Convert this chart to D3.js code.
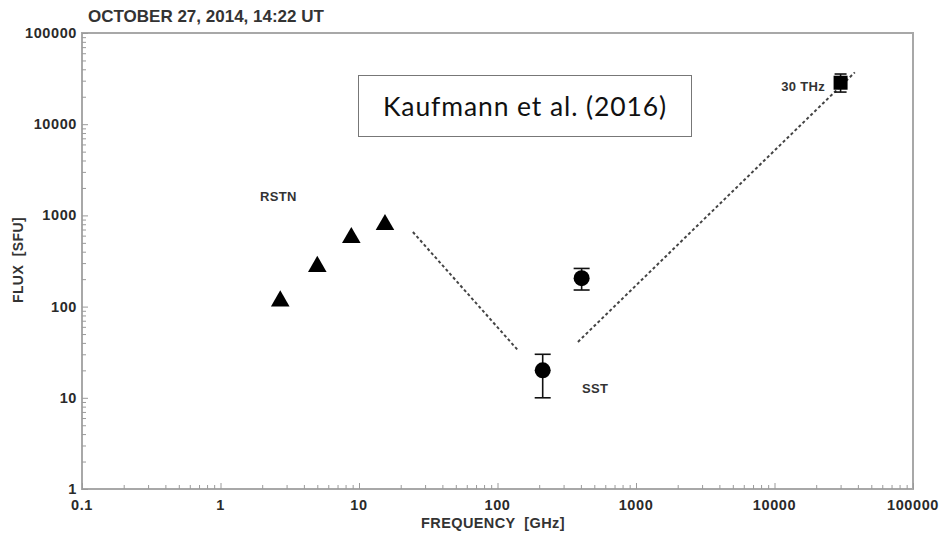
<!DOCTYPE html>
<html>
<head>
<meta charset="utf-8">
<script src="https://cdn.jsdelivr.net/npm/d3@7"></script>
<style>
  body { margin: 0; background: #fff; }
  svg { display: block; font-family: "Liberation Sans", Arial, sans-serif; }
  text { white-space: pre; }
</style>
</head>
<body>
<div class="chart"></div>
<script>
const WIDTH = 946;
const HEIGHT = 538;
const M = { left: 82, right: 33, top: 33, bottom: 49 };

// RSTN fixed frequencies (triangles)
var rstnFreq = [2.7, 5.0, 8.8, 15.4];
var rstnFlux = [115, 275, 570, 790];

// SST sub-THz points (circles, with error bars)
var sstFreq = [212, 405];
var sstFlux = [20, 205];
var sstLow = [10, 152];
var sstHigh = [30, 262];

// 30 THz point (square)
var thzFreq = [30000];
var thzFlux = [28500];
var thzLow = [22500];
var thzHigh = [35500];

// dashed spectral trends
var fitLowFreq = [24.5, 141];
var fitLowFlux = [657, 33];
var fitHighFreq = [381, 38000];
var fitHighFlux = [41, 37000];

var xTicks = [0.1, 1, 10, 100, 1000, 10000, 100000];
var xTickLabels = ['0.1', '1', '10', '100', '1000', '10000', '100000'];
var yTicks = [1, 10, 100, 1000, 10000, 100000];
var yTickLabels = ['1', '10', '100', '1000', '10000', '100000'];

var translate = function (x, y) {
  return 'translate(' + x + ',' + y + ')';
};

var innerW = WIDTH - M.left - M.right;
var innerH = HEIGHT - M.top - M.bottom;

var x = d3.scaleLog().domain([0.1, 100000]).range([0, innerW]);
var y = d3.scaleLog().domain([1, 100000]).range([innerH, 0]);

var minorOf = function (majors) {
  var out = [];
  for (var i = 0; i < majors.length - 1; i++)
    for (var k = 2; k < 10; k++) out.push(majors[i] * k);
  return out;
};

var svg = d3.select('.chart').append('svg')
  .attr('width', WIDTH)
  .attr('height', HEIGHT);

svg.append('text')
  .attr('x', 88).attr('y', 22)
  .attr('font-size', 17).attr('font-weight', 'bold').attr('fill', '#333')
  .text('OCTOBER 27, 2014, 14:22 UT');

var g = svg.append('g').attr('transform', translate(M.left, M.top));

// frame
g.append('rect')
  .attr('width', innerW).attr('height', innerH)
  .attr('fill', 'none').attr('stroke', '#a8a8a8').attr('stroke-width', 2);

// x ticks (inward)
var xAxis = d3.axisTop(x).tickValues(xTicks).tickSize(6).tickFormat('');
var xMinor = d3.axisTop(x).tickValues(minorOf(xTicks)).tickSize(4).tickFormat('');
[xAxis, xMinor].forEach(function (ax) {
  g.append('g').attr('transform', translate(0, innerH)).call(ax)
    .call(function (s) { s.select('.domain').remove(); })
    .selectAll('line').attr('stroke', '#9a9a9a');
});

var yAxis = d3.axisRight(y).tickValues(yTicks).tickSize(6).tickFormat('');
var yMinor = d3.axisRight(y).tickValues(minorOf(yTicks)).tickSize(4).tickFormat('');
[yAxis, yMinor].forEach(function (ax) {
  g.append('g').call(ax)
    .call(function (s) { s.select('.domain').remove(); })
    .selectAll('line').attr('stroke', '#9a9a9a');
});

// tick labels
g.selectAll('.xlab').data(xTicks).enter().append('text')
  .attr('x', function (d) { return x(d); })
  .attr('y', innerH + 21)
  .attr('text-anchor', 'middle')
  .attr('font-size', 14.5).attr('letter-spacing', 0.6)
  .attr('font-weight', 'bold').attr('fill', '#2a2a2a')
  .text(function (d, i) { return xTickLabels[i]; });

g.selectAll('.ylab').data(yTicks).enter().append('text')
  .attr('x', -5)
  .attr('y', function (d) { return y(d) + 5; })
  .attr('text-anchor', 'end')
  .attr('font-size', 14.5).attr('letter-spacing', 0.6)
  .attr('font-weight', 'bold').attr('fill', '#2a2a2a')
  .text(function (d, i) { return yTickLabels[i]; });

// axis titles
svg.append('text')
  .attr('x', 493).attr('y', 528)
  .attr('text-anchor', 'middle')
  .attr('font-size', 14.5).attr('letter-spacing', 0.4)
  .attr('font-weight', 'bold').attr('fill', '#333')
  .text('FREQUENCY  [GHz]');

svg.append('text')
  .attr('transform', translate(23, 260) + ' rotate(-90)')
  .attr('text-anchor', 'middle')
  .attr('font-size', 14).attr('letter-spacing', 0.4)
  .attr('font-weight', 'bold').attr('fill', '#333')
  .text('FLUX  [SFU]');

// dashed trends
var line = d3.line()
  .x(function (d) { return x(d[0]); })
  .y(function (d) { return y(d[1]); });

[[fitLowFreq, fitLowFlux], [fitHighFreq, fitHighFlux]].forEach(function (f) {
  g.append('path')
    .attr('d', line(d3.zip(f[0], f[1])))
    .attr('stroke', '#444').attr('stroke-width', 2)
    .attr('stroke-dasharray', '3,2.5').attr('fill', 'none');
});

// RSTN triangles
g.selectAll('.tri').data(d3.zip(rstnFreq, rstnFlux)).enter().append('path')
  .attr('transform', function (d) { return translate(x(d[0]), y(d[1])); })
  .attr('d', d3.symbol().type(d3.symbolTriangle).size(150))
  .attr('fill', '#000');

// error bars
var errBars = function (fx, lo, hi, cap) {
  var grp = g.append('g').attr('stroke', '#111').attr('stroke-width', 1.6);
  fx.forEach(function (f, i) {
    grp.append('line').attr('x1', x(f)).attr('x2', x(f))
      .attr('y1', y(lo[i])).attr('y2', y(hi[i]));
    [lo[i], hi[i]].forEach(function (v) {
      grp.append('line').attr('x1', x(f) - cap).attr('x2', x(f) + cap)
        .attr('y1', y(v)).attr('y2', y(v));
    });
  });
};

errBars(sstFreq, sstLow, sstHigh, 8);
errBars(thzFreq, thzLow, thzHigh, 6);

g.selectAll('.sst').data(d3.zip(sstFreq, sstFlux)).enter().append('circle')
  .attr('cx', function (d) { return x(d[0]); })
  .attr('cy', function (d) { return y(d[1]); })
  .attr('r', 8).attr('fill', '#000');

g.selectAll('.thz').data(d3.zip(thzFreq, thzFlux)).enter().append('rect')
  .attr('x', function (d) { return x(d[0]) - 7; })
  .attr('y', function (d) { return y(d[1]) - 7; })
  .attr('width', 14).attr('height', 14).attr('fill', '#000');

// annotations
var note = function (t, xx, yy, anchor) {
  svg.append('text')
    .attr('x', xx).attr('y', yy)
    .attr('text-anchor', anchor || 'start')
    .attr('font-size', 13).attr('letter-spacing', 0.3)
    .attr('font-weight', 'bold').attr('fill', '#333')
    .text(t);
};
note('RSTN', 260, 201);
note('SST', 582, 393);
note('30 THz', 825, 91, 'end');

// citation box
svg.append('rect')
  .attr('x', 358.5).attr('y', 75.5).attr('width', 333).attr('height', 61)
  .attr('fill', '#fff').attr('stroke', '#777').attr('stroke-width', 1);
svg.append('text')
  .attr('x', 525).attr('y', 116)
  .attr('text-anchor', 'middle')
  .attr('font-family', 'Lato, "Open Sans", sans-serif')
  .attr('font-size', 26.5).attr('letter-spacing', 0.9).attr('fill', '#111')
  .text('Kaufmann et al. (2016)');
</script>
</body>
</html>
